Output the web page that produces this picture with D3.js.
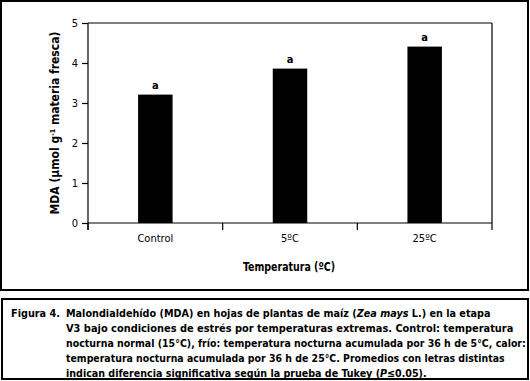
<!DOCTYPE html>
<html>
<head>
<meta charset="utf-8">
<script src="https://cdn.jsdelivr.net/npm/d3@7"></script>
<style>
  body { margin: 0; background: #fff; }
  svg { display: block; }
  text { font-family: "Liberation Sans Narrow", "Arial Narrow", "DejaVu Sans Condensed", sans-serif; fill: #000; }
</style>
</head>
<body>
<div id="chart-area"></div>
<script>
// data
const categories = ["Control", "5ºC", "25ºC"];
const values = [3.21, 3.86, 4.41];
const letters = ["a", "a", "a"];
const yTicks = [0, 1, 2, 3, 4, 5];

// caption lines, each a list of [text, italic]
const captionLines = [
  [["Malondialdehído (MDA) en hojas de plantas de maíz (", false], ["Zea mays", true], [" L.) en la etapa", false]],
  [["V3 bajo condiciones de estrés por temperaturas extremas. Control: temperatura", false]],
  [["nocturna normal (15°C), frío: temperatura nocturna acumulada por 36 h de 5°C, calor:", false]],
  [["temperatura nocturna acumulada por 36 h de 25°C. Promedios con letras distintas", false]],
  [["indican diferencia significativa según la prueba de Tukey (", false], ["P", true], ["≤0.05).", false]]
];
// measured width of each caption line in the reference
const captionWidths = [425, 448, 460, 439, 361];

const width = 530, height = 381;
const plot = {left: 88, right: 492, top: 23, bottom: 223};

const svg = d3.select("#chart-area").append("svg")
  .attr("width", width)
  .attr("height", height);

// outer frames
svg.append("rect")
  .attr("x", 1).attr("y", 1)
  .attr("width", 527).attr("height", 289)
  .attr("fill", "none").attr("stroke", "#000").attr("stroke-width", 2);

svg.append("rect")
  .attr("x", 2).attr("y", 299)
  .attr("width", 526).attr("height", 80)
  .attr("fill", "none").attr("stroke", "#000").attr("stroke-width", 2);

// scales
const x = d3.scaleBand()
  .domain(categories)
  .range([plot.left, plot.right])
  .paddingInner(0.744)
  .paddingOuter(0.372);

const xTicks = d3.scaleBand()
  .domain(categories)
  .range([plot.left, plot.right]);

const y = d3.scaleLinear()
  .domain([0, 5])
  .range([plot.bottom, plot.top]);

// box: top and right lines
svg.append("line")
  .attr("x1", plot.left).attr("x2", plot.right)
  .attr("y1", y(5)).attr("y2", y(5))
  .attr("stroke", "#000").attr("stroke-width", 1.2);
svg.append("line")
  .attr("x1", plot.right).attr("x2", plot.right)
  .attr("y1", y(5)).attr("y2", plot.bottom)
  .attr("stroke", "#000").attr("stroke-width", 1.2);

// bars
svg.selectAll("rect.bar")
  .data(values)
  .enter().append("rect")
  .attr("class", "bar")
  .attr("x", (d, i) => x(categories[i]))
  .attr("width", x.bandwidth())
  .attr("y", d => y(d))
  .attr("height", d => y(0) - y(d))
  .attr("fill", "#000");

// letters
svg.selectAll("text.letter")
  .data(values)
  .enter().append("text")
  .attr("class", "letter")
  .attr("x", (d, i) => x(categories[i]) + x.bandwidth() / 2)
  .attr("y", d => y(d) - 6)
  .attr("text-anchor", "middle")
  .attr("font-size", "11px")
  .attr("font-weight", "bold")
  .text((d, i) => letters[i]);

// y axis
const yAxis = d3.axisLeft(y)
  .tickValues(yTicks)
  .tickSize(6)
  .tickPadding(4)
  .tickFormat(d3.format("d"));

const yAxisGroup = svg.append("g")
  .attr("transform", "translate(" + plot.left + ",0)")
  .call(yAxis);

yAxisGroup.select(".domain").remove();
yAxisGroup.append("line")
  .attr("x1", 0).attr("x2", 0)
  .attr("y1", y(5)).attr("y2", plot.bottom + 7)
  .attr("stroke", "#000").attr("stroke-width", 1.2);

// x axis: ticks at band edges
const xAxisGroup = svg.append("g");
xAxisGroup.append("line")
  .attr("x1", plot.left).attr("x2", plot.right)
  .attr("y1", y(0)).attr("y2", y(0))
  .attr("stroke", "#000").attr("stroke-width", 1.2);

const edges = categories.map(c => xTicks(c)).concat([plot.right]);
xAxisGroup.selectAll("line.tick")
  .data(edges)
  .enter().append("line")
  .attr("class", "tick")
  .attr("x1", d => d).attr("x2", d => d)
  .attr("y1", y(0)).attr("y2", y(0) + 7)
  .attr("stroke", "#000").attr("stroke-width", 1.2);

xAxisGroup.selectAll("text.cat")
  .data(categories)
  .enter().append("text")
  .attr("class", "cat")
  .attr("x", d => x(d) + x.bandwidth() / 2)
  .attr("y", y(0) + 19)
  .attr("text-anchor", "middle")
  .attr("font-size", "11px")
  .text(d => d);

yAxisGroup.selectAll(".tick text")
  .attr("font-size", "11px")
  .attr("font-family", null);
yAxisGroup.selectAll(".tick line")
  .attr("stroke-width", 1.2);

// axis labels
svg.append("text")
  .attr("x", 289)
  .attr("y", 271)
  .attr("text-anchor", "middle")
  .attr("font-size", "12px")
  .attr("font-weight", "bold")
  .attr("textLength", 92)
  .attr("lengthAdjust", "spacingAndGlyphs")
  .text("Temperatura (ºC)");

const yLabel = svg.append("text")
  .attr("transform", "translate(59," + 123 + ") rotate(-90)")
  .attr("text-anchor", "middle")
  .attr("font-size", "12px")
  .attr("font-weight", "bold");
yLabel.append("tspan").text("MDA (µmol g");
yLabel.append("tspan").attr("dy", -4).attr("font-size", "7px").text("-1");
yLabel.append("tspan").attr("dy", 4).text(" materia fresca)");

// caption
const caption = svg.append("g")
  .attr("font-size", "11px")
  .attr("font-weight", "bold");

caption.append("text")
  .attr("x", 11)
  .attr("y", 317)
  .attr("textLength", 49)
  .attr("lengthAdjust", "spacingAndGlyphs")
  .text("Figura 4.");

// squeeze each line horizontally to the reference width
captionLines.forEach((segs, i) => {
  const row = caption.append("g")
    .attr("transform", "translate(66," + (317 + i * 14.9) + ")");
  const t = row.append("text");
  segs.forEach(s => {
    t.append("tspan")
      .attr("font-style", s[1] ? "italic" : null)
      .text(s[0]);
  });
  const natural = t.node().getComputedTextLength();
  t.attr("transform", "scale(" + (captionWidths[i] / natural) + ",1)");
});
</script>
</body>
</html>
